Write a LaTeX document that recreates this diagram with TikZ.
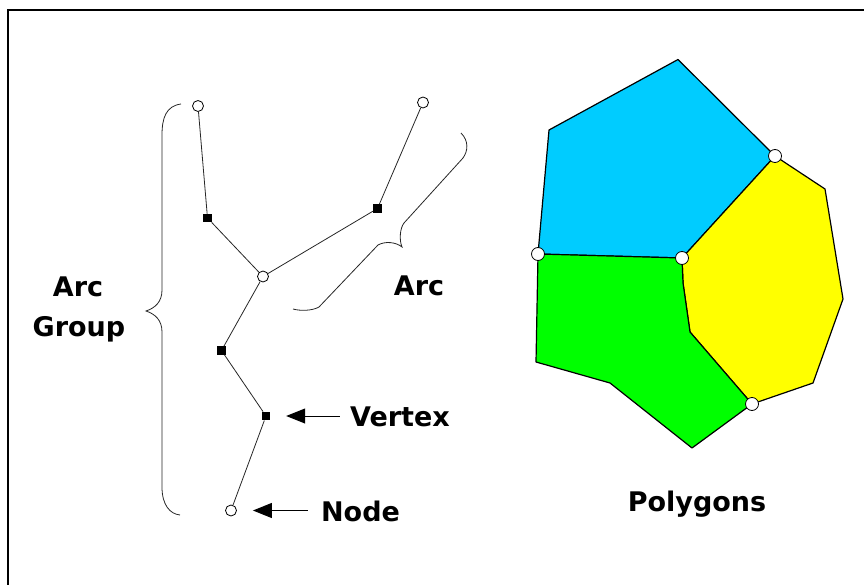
\documentclass[tikz,border=0pt]{standalone}
\usepackage{fontspec}
\setmainfont{DejaVu Sans}
\usetikzlibrary{arrows.meta}

\definecolor{polyblue}{RGB}{0,204,255}
\definecolor{polyyellow}{RGB}{255,255,0}
\definecolor{polygreen}{RGB}{0,255,0}

\begin{document}
\begin{tikzpicture}[x=1pt, y=-1pt,
  pnode/.style={circle, draw=black, fill=white, line width=0.8pt,
                minimum size=11pt, inner sep=0pt},
  vtx/.style={rectangle, fill=black, minimum size=8.5pt, inner sep=0pt},
  lbl/.style={font=\bfseries\fontsize{27}{31}\selectfont, inner sep=0pt, anchor=base},
  arc/.style={line width=0.8pt, black!85},
  brace/.style={line width=0.8pt, black!85},
  ptr/.style={-{Triangle[length=19pt, width=15pt]}, line width=1pt},
  face/.style={draw=black, line width=1.2pt, line join=round}
]
  \useasboundingbox (0,0) rectangle (864,585);
  % frame
  \draw[line width=2pt] (7.5,585) -- (7.5,10.5) -- (864,10.5);

  % Arc group: nodes and vertices
  \node[pnode] (nd1) at (198,106) {};
  \node[vtx]   (vx1) at (207.5,218) {};
  \node[pnode] (nd2) at (263,276.5) {};
  \node[pnode] (nd3) at (423,102.5) {};
  \node[vtx]   (vx2) at (377.5,208.5) {};
  \node[vtx]   (vx3) at (221.5,350.5) {};
  \node[vtx]   (vx4) at (266,416) {};
  \node[pnode] (nd4) at (231,510.5) {};
  % Arcs
  \draw[arc] (nd1) -- (vx1) -- (nd2);
  \draw[arc] (nd3) -- (vx2) -- (nd2);
  \draw[arc] (nd2) -- (vx3) -- (vx4) -- (nd4);

  % Braces
  \draw[brace] (181,104) .. controls (166,106) and (162,118) .. (162,135)
    -- (162,290) .. controls (162,302) and (155,308) .. (146,311)
    .. controls (155,314) and (162,320) .. (162,332)
    -- (162,487) .. controls (162,505) and (170,514) .. (180,515);
  \draw[brace] (461,133) .. controls (469,141) and (468,151) .. (463,158)
    -- (404,223) .. controls (400,228) and (399,240) .. (402,247)
    .. controls (396,242) and (385,241) .. (378,245)
    -- (319,307) .. controls (312,311) and (300,311) .. (293,309);

  % Labels
  \node[lbl] (lblarc1) at (78,296.7) {Arc};
  \node[lbl] (lblgroup) at (79,336.7) {Group};
  \node[lbl] (lblarc2) at (419,295) {Arc};
  \node[lbl] (lblvertex) at (400,426.7) {Vertex};
  \node[lbl] (lblnode) at (360.5,521.7) {Node};
  \node[lbl] (lblpoly) at (697,511) {Polygons};

  % Pointers
  \draw[ptr, shorten <=10pt, shorten >=15.75pt] (lblvertex.west |- vx4) -- (vx4);
  \draw[ptr, shorten <=13pt, shorten >=16pt] (lblnode.west |- nd4) -- (nd4);

  % Polygons
  \coordinate (ptop) at (678,59.5);
  \coordinate (pne)  at (775,156);
  \coordinate (pmid) at (682,258);
  \coordinate (pw)   at (538,254);
  \coordinate (pse)  at (752,404);
  \filldraw[face, fill=polyblue] (ptop) -- (pne) -- (pmid) -- (pw) -- (549,130) -- cycle;
  \filldraw[face, fill=polyyellow] (pne) -- (825,189) -- (843,299) -- (813,383)
    -- (pse) -- (690,332) -- (683,283) -- (pmid) -- cycle;
  \filldraw[face, fill=polygreen] (pw) -- (pmid) -- (683,283) -- (690,332)
    -- (pse) -- (692,448) -- (610,383) -- (536,362) -- cycle;
  \node[pnode, minimum size=13pt] (pn1) at (pne) {};
  \node[pnode, minimum size=13pt] (pn2) at (pmid) {};
  \node[pnode, minimum size=13pt] (pn3) at (pw) {};
  \node[pnode, minimum size=13pt] (pn4) at (pse) {};
\end{tikzpicture}
\end{document}
